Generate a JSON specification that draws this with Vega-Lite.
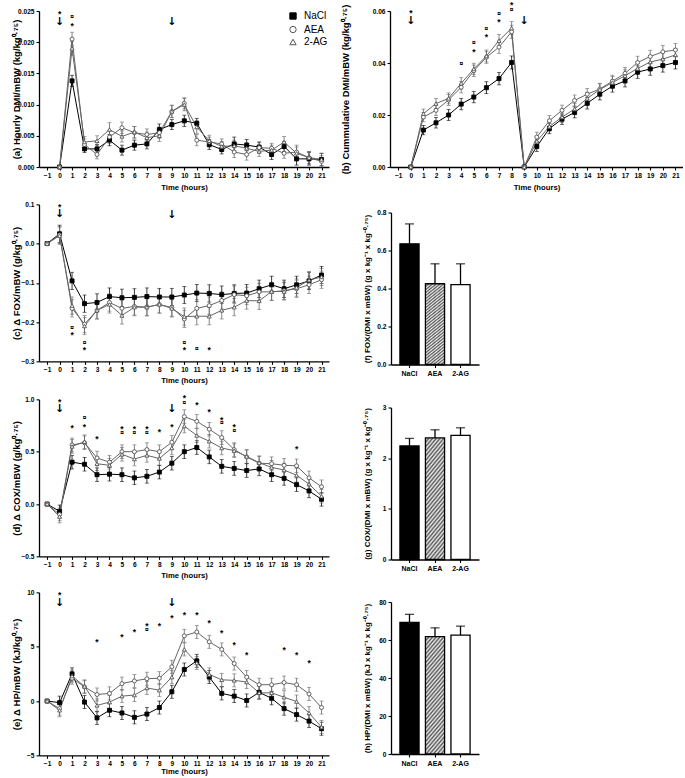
{
  "$schema": "https://vega.github.io/schema/vega-lite/v6.json",
  "padding": {"left": 11, "top": 1, "right": 0, "bottom": 0},
  "datasets": {
    "a": [
      {"t":0,"g":"NaCl","m":0,"se":0},{"t":1,"g":"NaCl","m":0.0138,"se":0.0009},{"t":2,"g":"NaCl","m":0.0029,"se":0.0006},{"t":3,"g":"NaCl","m":0.0029,"se":0.0007},{"t":4,"g":"NaCl","m":0.0043,"se":0.0009},{"t":5,"g":"NaCl","m":0.0027,"se":0.0008},{"t":6,"g":"NaCl","m":0.0035,"se":0.0008},{"t":7,"g":"NaCl","m":0.0037,"se":0.0008},{"t":8,"g":"NaCl","m":0.006,"se":0.0009},{"t":9,"g":"NaCl","m":0.0068,"se":0.0008},{"t":10,"g":"NaCl","m":0.0074,"se":0.0009},{"t":11,"g":"NaCl","m":0.007,"se":0.0008},{"t":12,"g":"NaCl","m":0.0036,"se":0.0008},{"t":13,"g":"NaCl","m":0.0028,"se":0.0007},{"t":14,"g":"NaCl","m":0.0037,"se":0.0011},{"t":15,"g":"NaCl","m":0.0035,"se":0.0009},{"t":16,"g":"NaCl","m":0.0032,"se":0.0008},{"t":17,"g":"NaCl","m":0.002,"se":0.0008},{"t":18,"g":"NaCl","m":0.0033,"se":0.0008},{"t":19,"g":"NaCl","m":0.0013,"se":0.001},{"t":20,"g":"NaCl","m":0.0013,"se":0.001},{"t":21,"g":"NaCl","m":0.0012,"se":0.001},
      {"t":0,"g":"AEA","m":0,"se":0},{"t":1,"g":"AEA","m":0.0205,"se":0.0011},{"t":2,"g":"AEA","m":0.0036,"se":0.0009},{"t":3,"g":"AEA","m":0.002,"se":0.0007},{"t":4,"g":"AEA","m":0.0048,"se":0.001},{"t":5,"g":"AEA","m":0.0063,"se":0.0009},{"t":6,"g":"AEA","m":0.0055,"se":0.001},{"t":7,"g":"AEA","m":0.0052,"se":0.0009},{"t":8,"g":"AEA","m":0.0055,"se":0.0009},{"t":9,"g":"AEA","m":0.0089,"se":0.001},{"t":10,"g":"AEA","m":0.0102,"se":0.0009},{"t":11,"g":"AEA","m":0.0043,"se":0.0009},{"t":12,"g":"AEA","m":0.004,"se":0.0008},{"t":13,"g":"AEA","m":0.0037,"se":0.0008},{"t":14,"g":"AEA","m":0.0024,"se":0.0009},{"t":15,"g":"AEA","m":0.002,"se":0.0009},{"t":16,"g":"AEA","m":0.0031,"se":0.0009},{"t":17,"g":"AEA","m":0.003,"se":0.0008},{"t":18,"g":"AEA","m":0.0022,"se":0.0008},{"t":19,"g":"AEA","m":0.0024,"se":0.0011},{"t":20,"g":"AEA","m":0.0015,"se":0.001},{"t":21,"g":"AEA","m":0.0009,"se":0.0009},
      {"t":0,"g":"2-AG","m":0,"se":0},{"t":1,"g":"2-AG","m":0.019,"se":0.0011},{"t":2,"g":"2-AG","m":0.004,"se":0.0009},{"t":3,"g":"2-AG","m":0.0042,"se":0.0008},{"t":4,"g":"2-AG","m":0.006,"se":0.0011},{"t":5,"g":"2-AG","m":0.0049,"se":0.0009},{"t":6,"g":"2-AG","m":0.0056,"se":0.0009},{"t":7,"g":"2-AG","m":0.0047,"se":0.0009},{"t":8,"g":"2-AG","m":0.005,"se":0.0009},{"t":9,"g":"2-AG","m":0.0089,"se":0.001},{"t":10,"g":"2-AG","m":0.01,"se":0.001},{"t":11,"g":"2-AG","m":0.0064,"se":0.001},{"t":12,"g":"2-AG","m":0.0042,"se":0.0009},{"t":13,"g":"2-AG","m":0.0033,"se":0.0008},{"t":14,"g":"2-AG","m":0.0034,"se":0.0009},{"t":15,"g":"2-AG","m":0.003,"se":0.0009},{"t":16,"g":"2-AG","m":0.0025,"se":0.0008},{"t":17,"g":"2-AG","m":0.0027,"se":0.0008},{"t":18,"g":"2-AG","m":0.004,"se":0.0009},{"t":19,"g":"2-AG","m":0.0022,"se":0.001},{"t":20,"g":"2-AG","m":0.0015,"se":0.001},{"t":21,"g":"2-AG","m":0.0012,"se":0.001}
    ],
    "aNote": [
      {"t":0,"m":0.0248,"s":"*"},{"t":0,"m":0.0233,"s":"↓"},{"t":1,"m":0.0241,"s":"¤"},{"t":1,"m":0.0229,"s":"*"},{"t":9,"m":0.0233,"s":"↓"}
    ],
    "b": [
      {"t":0,"g":"NaCl","m":0,"se":0},{"t":1,"g":"NaCl","m":0.0142,"se":0.0018},{"t":2,"g":"NaCl","m":0.017,"se":0.002},{"t":3,"g":"NaCl","m":0.02,"se":0.0021},{"t":4,"g":"NaCl","m":0.0242,"se":0.0022},{"t":5,"g":"NaCl","m":0.0269,"se":0.0022},{"t":6,"g":"NaCl","m":0.0305,"se":0.0023},{"t":7,"g":"NaCl","m":0.034,"se":0.0024},{"t":8,"g":"NaCl","m":0.0402,"se":0.0025},{"t":9,"g":"NaCl","m":0,"se":0},{"t":10,"g":"NaCl","m":0.0079,"se":0.0019},{"t":11,"g":"NaCl","m":0.0148,"se":0.002},{"t":12,"g":"NaCl","m":0.0184,"se":0.002},{"t":13,"g":"NaCl","m":0.021,"se":0.0021},{"t":14,"g":"NaCl","m":0.0245,"se":0.0022},{"t":15,"g":"NaCl","m":0.028,"se":0.0022},{"t":16,"g":"NaCl","m":0.0311,"se":0.0023},{"t":17,"g":"NaCl","m":0.0331,"se":0.0023},{"t":18,"g":"NaCl","m":0.0365,"se":0.0024},{"t":19,"g":"NaCl","m":0.0377,"se":0.0024},{"t":20,"g":"NaCl","m":0.039,"se":0.0025},{"t":21,"g":"NaCl","m":0.0402,"se":0.0025},
      {"t":0,"g":"AEA","m":0,"se":0},{"t":1,"g":"AEA","m":0.0192,"se":0.0018},{"t":2,"g":"AEA","m":0.0218,"se":0.002},{"t":3,"g":"AEA","m":0.0258,"se":0.0021},{"t":4,"g":"AEA","m":0.0307,"se":0.0022},{"t":5,"g":"AEA","m":0.037,"se":0.0022},{"t":6,"g":"AEA","m":0.0422,"se":0.0023},{"t":7,"g":"AEA","m":0.0461,"se":0.0024},{"t":8,"g":"AEA","m":0.052,"se":0.0025},{"t":9,"g":"AEA","m":0,"se":0},{"t":10,"g":"AEA","m":0.0115,"se":0.0019},{"t":11,"g":"AEA","m":0.0178,"se":0.002},{"t":12,"g":"AEA","m":0.0218,"se":0.002},{"t":13,"g":"AEA","m":0.0256,"se":0.0021},{"t":14,"g":"AEA","m":0.028,"se":0.0022},{"t":15,"g":"AEA","m":0.03,"se":0.0022},{"t":16,"g":"AEA","m":0.033,"se":0.0023},{"t":17,"g":"AEA","m":0.036,"se":0.0023},{"t":18,"g":"AEA","m":0.0402,"se":0.0024},{"t":19,"g":"AEA","m":0.0425,"se":0.0024},{"t":20,"g":"AEA","m":0.0443,"se":0.0025},{"t":21,"g":"AEA","m":0.045,"se":0.0025},
      {"t":0,"g":"2-AG","m":0,"se":0},{"t":1,"g":"2-AG","m":0.0205,"se":0.0018},{"t":2,"g":"2-AG","m":0.0244,"se":0.002},{"t":3,"g":"2-AG","m":0.0264,"se":0.0021},{"t":4,"g":"2-AG","m":0.0322,"se":0.0022},{"t":5,"g":"2-AG","m":0.0377,"se":0.0022},{"t":6,"g":"2-AG","m":0.0427,"se":0.0023},{"t":7,"g":"2-AG","m":0.0486,"se":0.0024},{"t":8,"g":"2-AG","m":0.0534,"se":0.0025},{"t":9,"g":"2-AG","m":0,"se":0},{"t":10,"g":"2-AG","m":0.0099,"se":0.0019},{"t":11,"g":"2-AG","m":0.0156,"se":0.002},{"t":12,"g":"2-AG","m":0.0192,"se":0.002},{"t":13,"g":"2-AG","m":0.0223,"se":0.0021},{"t":14,"g":"2-AG","m":0.0264,"se":0.0022},{"t":15,"g":"2-AG","m":0.0298,"se":0.0022},{"t":16,"g":"2-AG","m":0.0325,"se":0.0023},{"t":17,"g":"2-AG","m":0.0351,"se":0.0023},{"t":18,"g":"2-AG","m":0.0379,"se":0.0024},{"t":19,"g":"2-AG","m":0.0404,"se":0.0024},{"t":20,"g":"2-AG","m":0.0415,"se":0.0025},{"t":21,"g":"2-AG","m":0.0431,"se":0.0025}
    ],
    "bNote": [
      {"t":0,"m":0.0598,"s":"*"},{"t":0,"m":0.0561,"s":"↓"},{"t":4,"m":0.0395,"s":"¤"},{"t":5,"m":0.0476,"s":"¤"},{"t":5,"m":0.045,"s":"*"},{"t":6,"m":0.053,"s":"¤"},{"t":6,"m":0.0504,"s":"*"},{"t":7,"m":0.0589,"s":"¤"},{"t":7,"m":0.0563,"s":"*"},{"t":8,"m":0.0627,"s":"*"},{"t":8,"m":0.0604,"s":"¤"},{"t":9,"m":0.0561,"s":"↓"}
    ],
    "c": [
      {"t":-1,"g":"NaCl","m":0,"se":0},{"t":0,"g":"NaCl","m":0.025,"se":0.022},{"t":1,"g":"NaCl","m":-0.095,"se":0.022},{"t":2,"g":"NaCl","m":-0.153,"se":0.022},{"t":3,"g":"NaCl","m":-0.15,"se":0.022},{"t":4,"g":"NaCl","m":-0.135,"se":0.022},{"t":5,"g":"NaCl","m":-0.138,"se":0.022},{"t":6,"g":"NaCl","m":-0.137,"se":0.022},{"t":7,"g":"NaCl","m":-0.135,"se":0.022},{"t":8,"g":"NaCl","m":-0.136,"se":0.022},{"t":9,"g":"NaCl","m":-0.136,"se":0.022},{"t":10,"g":"NaCl","m":-0.131,"se":0.022},{"t":11,"g":"NaCl","m":-0.126,"se":0.022},{"t":12,"g":"NaCl","m":-0.127,"se":0.022},{"t":13,"g":"NaCl","m":-0.13,"se":0.022},{"t":14,"g":"NaCl","m":-0.127,"se":0.022},{"t":15,"g":"NaCl","m":-0.126,"se":0.022},{"t":16,"g":"NaCl","m":-0.115,"se":0.022},{"t":17,"g":"NaCl","m":-0.105,"se":0.022},{"t":18,"g":"NaCl","m":-0.115,"se":0.022},{"t":19,"g":"NaCl","m":-0.105,"se":0.022},{"t":20,"g":"NaCl","m":-0.095,"se":0.022},{"t":21,"g":"NaCl","m":-0.08,"se":0.022},
      {"t":-1,"g":"AEA","m":0,"se":0},{"t":0,"g":"AEA","m":0.022,"se":0.022},{"t":1,"g":"AEA","m":-0.165,"se":0.022},{"t":2,"g":"AEA","m":-0.205,"se":0.022},{"t":3,"g":"AEA","m":-0.17,"se":0.022},{"t":4,"g":"AEA","m":-0.15,"se":0.022},{"t":5,"g":"AEA","m":-0.165,"se":0.022},{"t":6,"g":"AEA","m":-0.16,"se":0.022},{"t":7,"g":"AEA","m":-0.162,"se":0.022},{"t":8,"g":"AEA","m":-0.155,"se":0.022},{"t":9,"g":"AEA","m":-0.163,"se":0.022},{"t":10,"g":"AEA","m":-0.192,"se":0.022},{"t":11,"g":"AEA","m":-0.165,"se":0.022},{"t":12,"g":"AEA","m":-0.158,"se":0.022},{"t":13,"g":"AEA","m":-0.145,"se":0.022},{"t":14,"g":"AEA","m":-0.13,"se":0.022},{"t":15,"g":"AEA","m":-0.133,"se":0.022},{"t":16,"g":"AEA","m":-0.123,"se":0.022},{"t":17,"g":"AEA","m":-0.123,"se":0.022},{"t":18,"g":"AEA","m":-0.12,"se":0.022},{"t":19,"g":"AEA","m":-0.115,"se":0.022},{"t":20,"g":"AEA","m":-0.105,"se":0.022},{"t":21,"g":"AEA","m":-0.092,"se":0.022},
      {"t":-1,"g":"2-AG","m":0,"se":0},{"t":0,"g":"2-AG","m":0.02,"se":0.022},{"t":1,"g":"2-AG","m":-0.158,"se":0.022},{"t":2,"g":"2-AG","m":-0.21,"se":0.022},{"t":3,"g":"2-AG","m":-0.17,"se":0.022},{"t":4,"g":"2-AG","m":-0.155,"se":0.022},{"t":5,"g":"2-AG","m":-0.183,"se":0.022},{"t":6,"g":"2-AG","m":-0.162,"se":0.022},{"t":7,"g":"2-AG","m":-0.162,"se":0.022},{"t":8,"g":"2-AG","m":-0.155,"se":0.022},{"t":9,"g":"2-AG","m":-0.165,"se":0.022},{"t":10,"g":"2-AG","m":-0.186,"se":0.022},{"t":11,"g":"2-AG","m":-0.185,"se":0.022},{"t":12,"g":"2-AG","m":-0.185,"se":0.022},{"t":13,"g":"2-AG","m":-0.17,"se":0.022},{"t":14,"g":"2-AG","m":-0.162,"se":0.022},{"t":15,"g":"2-AG","m":-0.145,"se":0.022},{"t":16,"g":"2-AG","m":-0.146,"se":0.022},{"t":17,"g":"2-AG","m":-0.122,"se":0.022},{"t":18,"g":"2-AG","m":-0.122,"se":0.022},{"t":19,"g":"2-AG","m":-0.112,"se":0.022},{"t":20,"g":"2-AG","m":-0.093,"se":0.022},{"t":21,"g":"2-AG","m":-0.085,"se":0.022}
    ],
    "cNote": [
      {"t":0,"m":0.098,"s":"*"},{"t":0,"m":0.076,"s":"↓"},{"t":9,"m":0.072,"s":"↓"},{"t":1,"m":-0.215,"s":"¤"},{"t":1,"m":-0.23,"s":"*"},{"t":2,"m":-0.253,"s":"¤"},{"t":2,"m":-0.268,"s":"*"},{"t":10,"m":-0.253,"s":"¤"},{"t":10,"m":-0.268,"s":"*"},{"t":11,"m":-0.268,"s":"¤"},{"t":12,"m":-0.268,"s":"*"}
    ],
    "d": [
      {"t":-1,"g":"NaCl","m":0,"se":0},{"t":0,"g":"NaCl","m":-0.07,"se":0.06},{"t":1,"g":"NaCl","m":0.4,"se":0.065},{"t":2,"g":"NaCl","m":0.38,"se":0.065},{"t":3,"g":"NaCl","m":0.28,"se":0.065},{"t":4,"g":"NaCl","m":0.285,"se":0.065},{"t":5,"g":"NaCl","m":0.28,"se":0.065},{"t":6,"g":"NaCl","m":0.25,"se":0.065},{"t":7,"g":"NaCl","m":0.265,"se":0.065},{"t":8,"g":"NaCl","m":0.305,"se":0.065},{"t":9,"g":"NaCl","m":0.39,"se":0.065},{"t":10,"g":"NaCl","m":0.5,"se":0.065},{"t":11,"g":"NaCl","m":0.54,"se":0.065},{"t":12,"g":"NaCl","m":0.45,"se":0.065},{"t":13,"g":"NaCl","m":0.36,"se":0.065},{"t":14,"g":"NaCl","m":0.34,"se":0.065},{"t":15,"g":"NaCl","m":0.32,"se":0.065},{"t":16,"g":"NaCl","m":0.335,"se":0.065},{"t":17,"g":"NaCl","m":0.28,"se":0.065},{"t":18,"g":"NaCl","m":0.245,"se":0.065},{"t":19,"g":"NaCl","m":0.185,"se":0.065},{"t":20,"g":"NaCl","m":0.125,"se":0.065},{"t":21,"g":"NaCl","m":0.045,"se":0.065},
      {"t":-1,"g":"AEA","m":0,"se":0},{"t":0,"g":"AEA","m":-0.1,"se":0.06},{"t":1,"g":"AEA","m":0.565,"se":0.065},{"t":2,"g":"AEA","m":0.585,"se":0.065},{"t":3,"g":"AEA","m":0.44,"se":0.065},{"t":4,"g":"AEA","m":0.4,"se":0.065},{"t":5,"g":"AEA","m":0.5,"se":0.065},{"t":6,"g":"AEA","m":0.5,"se":0.065},{"t":7,"g":"AEA","m":0.52,"se":0.065},{"t":8,"g":"AEA","m":0.5,"se":0.065},{"t":9,"g":"AEA","m":0.59,"se":0.065},{"t":10,"g":"AEA","m":0.835,"se":0.065},{"t":11,"g":"AEA","m":0.79,"se":0.065},{"t":12,"g":"AEA","m":0.715,"se":0.065},{"t":13,"g":"AEA","m":0.635,"se":0.065},{"t":14,"g":"AEA","m":0.52,"se":0.065},{"t":15,"g":"AEA","m":0.45,"se":0.065},{"t":16,"g":"AEA","m":0.39,"se":0.065},{"t":17,"g":"AEA","m":0.385,"se":0.065},{"t":18,"g":"AEA","m":0.37,"se":0.065},{"t":19,"g":"AEA","m":0.365,"se":0.065},{"t":20,"g":"AEA","m":0.25,"se":0.065},{"t":21,"g":"AEA","m":0.165,"se":0.065},
      {"t":-1,"g":"2-AG","m":0,"se":0},{"t":0,"g":"2-AG","m":-0.12,"se":0.06},{"t":1,"g":"2-AG","m":0.55,"se":0.065},{"t":2,"g":"2-AG","m":0.595,"se":0.065},{"t":3,"g":"2-AG","m":0.385,"se":0.065},{"t":4,"g":"2-AG","m":0.37,"se":0.065},{"t":5,"g":"2-AG","m":0.475,"se":0.065},{"t":6,"g":"2-AG","m":0.43,"se":0.065},{"t":7,"g":"2-AG","m":0.465,"se":0.065},{"t":8,"g":"2-AG","m":0.435,"se":0.065},{"t":9,"g":"2-AG","m":0.535,"se":0.065},{"t":10,"g":"2-AG","m":0.745,"se":0.065},{"t":11,"g":"2-AG","m":0.655,"se":0.065},{"t":12,"g":"2-AG","m":0.6,"se":0.065},{"t":13,"g":"2-AG","m":0.535,"se":0.065},{"t":14,"g":"2-AG","m":0.51,"se":0.065},{"t":15,"g":"2-AG","m":0.455,"se":0.065},{"t":16,"g":"2-AG","m":0.395,"se":0.065},{"t":17,"g":"2-AG","m":0.35,"se":0.065},{"t":18,"g":"2-AG","m":0.325,"se":0.065},{"t":19,"g":"2-AG","m":0.275,"se":0.065},{"t":20,"g":"2-AG","m":0.19,"se":0.065},{"t":21,"g":"2-AG","m":0.075,"se":0.065}
    ],
    "dNote": [
      {"t":0,"m":0.993,"s":"*"},{"t":0,"m":0.905,"s":"↓"},{"t":1,"m":0.738,"s":"*"},{"t":2,"m":0.818,"s":"¤"},{"t":2,"m":0.751,"s":"*"},{"t":3,"m":0.636,"s":"*"},{"t":5,"m":0.729,"s":"*"},{"t":5,"m":0.674,"s":"¤"},{"t":6,"m":0.729,"s":"*"},{"t":6,"m":0.674,"s":"¤"},{"t":7,"m":0.729,"s":"*"},{"t":7,"m":0.674,"s":"¤"},{"t":8,"m":0.706,"s":"*"},{"t":9,"m":0.91,"s":"↓"},{"t":9,"m":0.751,"s":"*"},{"t":10,"m":1.025,"s":"*"},{"t":10,"m":0.968,"s":"¤"},{"t":11,"m":0.962,"s":"*"},{"t":12,"m":0.898,"s":"*"},{"t":13,"m":0.818,"s":"*"},{"t":13,"m":0.77,"s":"¤"},{"t":14,"m":0.751,"s":"*"},{"t":14,"m":0.697,"s":"¤"},{"t":19,"m":0.543,"s":"*"}
    ],
    "e": [
      {"t":-1,"g":"NaCl","m":0,"se":0},{"t":0,"g":"NaCl","m":-0.15,"se":0.6},{"t":1,"g":"NaCl","m":2.5,"se":0.55},{"t":2,"g":"NaCl","m":-0.1,"se":0.6},{"t":3,"g":"NaCl","m":-1.55,"se":0.6},{"t":4,"g":"NaCl","m":-0.85,"se":0.6},{"t":5,"g":"NaCl","m":-1.1,"se":0.6},{"t":6,"g":"NaCl","m":-1.5,"se":0.6},{"t":7,"g":"NaCl","m":-1.2,"se":0.6},{"t":8,"g":"NaCl","m":-0.6,"se":0.6},{"t":9,"g":"NaCl","m":0.85,"se":0.6},{"t":10,"g":"NaCl","m":2.9,"se":0.6},{"t":11,"g":"NaCl","m":3.7,"se":0.6},{"t":12,"g":"NaCl","m":2.2,"se":0.6},{"t":13,"g":"NaCl","m":0.7,"se":0.6},{"t":14,"g":"NaCl","m":0.45,"se":0.6},{"t":15,"g":"NaCl","m":0.05,"se":0.6},{"t":16,"g":"NaCl","m":0.8,"se":0.6},{"t":17,"g":"NaCl","m":0.25,"se":0.6},{"t":18,"g":"NaCl","m":-0.7,"se":0.6},{"t":19,"g":"NaCl","m":-1.25,"se":0.6},{"t":20,"g":"NaCl","m":-1.85,"se":0.6},{"t":21,"g":"NaCl","m":-2.55,"se":0.6},
      {"t":-1,"g":"AEA","m":0,"se":0},{"t":0,"g":"AEA","m":-0.7,"se":0.6},{"t":1,"g":"AEA","m":2.1,"se":0.55},{"t":2,"g":"AEA","m":1.3,"se":0.6},{"t":3,"g":"AEA","m":0.6,"se":0.6},{"t":4,"g":"AEA","m":0.7,"se":0.6},{"t":5,"g":"AEA","m":1.6,"se":0.6},{"t":6,"g":"AEA","m":1.85,"se":0.6},{"t":7,"g":"AEA","m":2.05,"se":0.6},{"t":8,"g":"AEA","m":2.1,"se":0.6},{"t":9,"g":"AEA","m":3.15,"se":0.6},{"t":10,"g":"AEA","m":6.0,"se":0.6},{"t":11,"g":"AEA","m":6.35,"se":0.6},{"t":12,"g":"AEA","m":5.45,"se":0.6},{"t":13,"g":"AEA","m":4.75,"se":0.6},{"t":14,"g":"AEA","m":3.45,"se":0.6},{"t":15,"g":"AEA","m":2.2,"se":0.6},{"t":16,"g":"AEA","m":1.5,"se":0.6},{"t":17,"g":"AEA","m":1.5,"se":0.6},{"t":18,"g":"AEA","m":1.7,"se":0.6},{"t":19,"g":"AEA","m":1.5,"se":0.6},{"t":20,"g":"AEA","m":0.65,"se":0.6},{"t":21,"g":"AEA","m":-0.6,"se":0.6},
      {"t":-1,"g":"2-AG","m":0,"se":0},{"t":0,"g":"2-AG","m":-0.85,"se":0.6},{"t":1,"g":"2-AG","m":2.3,"se":0.55},{"t":2,"g":"2-AG","m":1.35,"se":0.6},{"t":3,"g":"2-AG","m":-0.4,"se":0.6},{"t":4,"g":"2-AG","m":-0.1,"se":0.6},{"t":5,"g":"2-AG","m":0.45,"se":0.6},{"t":6,"g":"2-AG","m":0.55,"se":0.6},{"t":7,"g":"2-AG","m":1.2,"se":0.6},{"t":8,"g":"2-AG","m":1.0,"se":0.6},{"t":9,"g":"2-AG","m":2.2,"se":0.6},{"t":10,"g":"2-AG","m":4.75,"se":0.6},{"t":11,"g":"2-AG","m":3.5,"se":0.6},{"t":12,"g":"2-AG","m":2.45,"se":0.6},{"t":13,"g":"2-AG","m":1.95,"se":0.6},{"t":14,"g":"2-AG","m":1.9,"se":0.6},{"t":15,"g":"2-AG","m":1.75,"se":0.6},{"t":16,"g":"2-AG","m":0.75,"se":0.6},{"t":17,"g":"2-AG","m":0.75,"se":0.6},{"t":18,"g":"2-AG","m":0.35,"se":0.6},{"t":19,"g":"2-AG","m":-0.05,"se":0.6},{"t":20,"g":"2-AG","m":-1.1,"se":0.6},{"t":21,"g":"2-AG","m":-2.4,"se":0.6}
    ],
    "eNote": [
      {"t":0,"m":9.87,"s":"*"},{"t":0,"m":9.03,"s":"↓"},{"t":3,"m":5.56,"s":"*"},{"t":5,"m":6.07,"s":"*"},{"t":6,"m":6.53,"s":"*"},{"t":7,"m":7.07,"s":"*"},{"t":7,"m":6.56,"s":"¤"},{"t":8,"m":7.07,"s":"*"},{"t":9,"m":7.76,"s":"*"},{"t":9,"m":9.03,"s":"↓"},{"t":10,"m":8.06,"s":"*"},{"t":11,"m":8.06,"s":"*"},{"t":12,"m":7.28,"s":"*"},{"t":13,"m":6.41,"s":"*"},{"t":14,"m":5.26,"s":"*"},{"t":15,"m":4.35,"s":"*"},{"t":18,"m":4.8,"s":"*"},{"t":19,"m":4.35,"s":"*"},{"t":20,"m":3.6,"s":"*"}
    ],
    "f": [
      {"g":"NaCl","m":0.635,"hi":0.74},{"g":"AEA","m":0.425,"hi":0.53},{"g":"2-AG","m":0.42,"hi":0.53}
    ],
    "gBar": [
      {"g":"NaCl","m":2.24,"hi":2.39},{"g":"AEA","m":2.4,"hi":2.56},{"g":"2-AG","m":2.45,"hi":2.6}
    ],
    "h": [
      {"g":"NaCl","m":69.2,"hi":73.5},{"g":"AEA","m":61.8,"hi":66.4},{"g":"2-AG","m":62.6,"hi":67.3}
    ]
  },
  "vconcat": [
    {
      "hconcat": [
        {
          "width": 290, "height": 156,
          "data": {"name": "a"},
          "encoding": {
            "x": {"field": "t", "type": "quantitative", "scale": {"domain": [-1.65, 21.6], "nice": false, "zero": false}, "axis": {"title": "Time (hours)", "values": [-1,0,1,2,3,4,5,6,7,8,9,10,11,12,13,14,15,16,17,18,19,20,21], "labelOverlap": false, "labelFlush": false, "titlePadding": 5}},
            "y": {"field": "m", "type": "quantitative", "title": "(a) Hourly DMI/mBW (kg/kg⁰·⁷⁵)", "scale": {"domain": [0, 0.025], "nice": false, "zero": false}, "axis": {"values": [0, 0.005, 0.01, 0.015, 0.02, 0.025], "format": ".3f", "titleX": -23}}
          },
          "layer": [
            {"mark": {"type": "errorbar", "ticks": {"size": 4}, "thickness": 0.8}, "encoding": {"yError": {"field": "se"}, "color": {"field": "g", "type": "nominal", "sort": ["NaCl", "AEA", "2-AG"], "scale": {"range": ["#000", "#666", "#666"]}, "legend": null}}},
            {"mark": {"type": "line", "strokeWidth": 1}, "encoding": {"color": {"field": "g", "type": "nominal", "sort": ["NaCl", "AEA", "2-AG"], "scale": {"range": ["#000", "#666", "#666"]}, "legend": null}}},
            {"mark": {"type": "point", "size": 16, "strokeWidth": 0.9, "opacity": 1},
             "encoding": {
               "shape": {"field": "g", "type": "nominal", "title": null, "scale": {"domain": ["NaCl", "AEA", "2-AG"], "range": ["square", "circle", "triangle-up"]},
                 "legend": {"title": null, "orient": "none", "legendX": 249, "legendY": 0, "labelFont": "Liberation Sans", "labelFontSize": 10, "labelFontWeight": "normal", "labelColor": "#000", "labelOffset": 6, "rowPadding": 1.5, "symbolSize": 40, "symbolStrokeWidth": 1}},
               "fill": {"field": "g", "type": "nominal", "title": null, "scale": {"domain": ["NaCl", "AEA", "2-AG"], "range": ["#000", "#fff", "#fff"]}},
               "stroke": {"field": "g", "type": "nominal", "title": null, "scale": {"domain": ["NaCl", "AEA", "2-AG"], "range": ["#000", "#555", "#555"]}}
             }},
            {"data": {"name": "aNote"}, "transform": [{"filter": "datum.s == '↓'"}], "mark": {"type": "text", "font": "DejaVu Sans", "fontSize": 11, "fontWeight": "bold", "baseline": "middle", "color": "#000"}, "encoding": {"text": {"field": "s"}}},
            {"data": {"name": "aNote"}, "transform": [{"filter": "datum.s == '*'"}], "mark": {"type": "text", "font": "Liberation Sans", "fontSize": 8.5, "fontWeight": "bold", "baseline": "middle", "dy": 1.5, "color": "#000"}, "encoding": {"text": {"field": "s"}}},
            {"data": {"name": "aNote"}, "transform": [{"filter": "datum.s == '¤'"}], "mark": {"type": "text", "font": "Liberation Sans", "fontSize": 6.5, "fontWeight": "bold", "baseline": "middle", "color": "#000"}, "encoding": {"text": {"field": "s"}}}
          ]
        },
        {
          "width": 293, "height": 156,
          "data": {"name": "b"},
          "encoding": {
            "x": {"field": "t", "type": "quantitative", "scale": {"domain": [-1.65, 21.6], "nice": false, "zero": false}, "axis": {"title": "Time (hours)", "values": [-1,0,1,2,3,4,5,6,7,8,9,10,11,12,13,14,15,16,17,18,19,20,21], "labelOverlap": false, "labelFlush": false, "titlePadding": 5}},
            "y": {"field": "m", "type": "quantitative", "title": "(b) Cummulative DMI/mBW (kg/kg⁰·⁷⁵)", "scale": {"domain": [0, 0.06], "nice": false, "zero": false}, "axis": {"values": [0, 0.02, 0.04, 0.06], "format": ".2f", "titleX": -45}}
          },
          "layer": [
            {"mark": {"type": "errorbar", "ticks": {"size": 4}, "thickness": 0.8}, "encoding": {"yError": {"field": "se"}, "color": {"field": "g", "type": "nominal", "scale": {"domain": ["NaCl", "AEA", "2-AG"], "range": ["#000", "#666", "#666"]}, "legend": null}}},
            {"mark": {"type": "line", "strokeWidth": 1}, "encoding": {"color": {"field": "g", "type": "nominal", "scale": {"domain": ["NaCl", "AEA", "2-AG"], "range": ["#000", "#666", "#666"]}, "legend": null}}},
            {"mark": {"type": "point", "size": 16, "strokeWidth": 0.9, "opacity": 1},
             "encoding": {
               "shape": {"field": "g", "type": "nominal", "scale": {"domain": ["NaCl", "AEA", "2-AG"], "range": ["square", "circle", "triangle-up"]}, "legend": null},
               "fill": {"field": "g", "type": "nominal", "scale": {"domain": ["NaCl", "AEA", "2-AG"], "range": ["#000", "#fff", "#fff"]}, "legend": null},
               "stroke": {"field": "g", "type": "nominal", "scale": {"domain": ["NaCl", "AEA", "2-AG"], "range": ["#000", "#555", "#555"]}, "legend": null}
             }},
            {"data": {"name": "bNote"}, "transform": [{"filter": "datum.s == '↓'"}], "mark": {"type": "text", "font": "DejaVu Sans", "fontSize": 11, "fontWeight": "bold", "baseline": "middle", "color": "#000"}, "encoding": {"text": {"field": "s"}}},
            {"data": {"name": "bNote"}, "transform": [{"filter": "datum.s == '*'"}], "mark": {"type": "text", "font": "Liberation Sans", "fontSize": 8.5, "fontWeight": "bold", "baseline": "middle", "dy": 1.5, "color": "#000"}, "encoding": {"text": {"field": "s"}}},
            {"data": {"name": "bNote"}, "transform": [{"filter": "datum.s == '¤'"}], "mark": {"type": "text", "font": "Liberation Sans", "fontSize": 6.5, "fontWeight": "bold", "baseline": "middle", "color": "#000"}, "encoding": {"text": {"field": "s"}}}
          ]
        }
      ],
      "spacing": 10,
      "resolve": {"scale": {"color": "independent", "shape": "independent", "fill": "independent", "stroke": "independent"}}
    },
    {
      "hconcat": [
        {
          "width": 290, "height": 157,
          "data": {"name": "c"},
          "encoding": {
            "x": {"field": "t", "type": "quantitative", "scale": {"domain": [-1.65, 21.6], "nice": false, "zero": false}, "axis": {"title": "Time (hours)", "values": [-1,0,1,2,3,4,5,6,7,8,9,10,11,12,13,14,15,16,17,18,19,20,21], "labelOverlap": false, "labelFlush": false, "titlePadding": 4}},
            "y": {"field": "m", "type": "quantitative", "title": "(c) Δ FOX/mBW (g/kg⁰·⁷⁵)", "scale": {"domain": [-0.3, 0.1], "nice": false, "zero": false}, "axis": {"values": [-0.3, -0.2, -0.1, 0, 0.1], "format": ".1f", "titleX": -23}}
          },
          "layer": [
            {"data": {"values": [{}]}, "mark": {"type": "rule", "strokeDash": [1.5, 2], "color": "#333", "strokeWidth": 0.9}, "encoding": {"x": {"datum": -1.65}, "x2": {"datum": 21.6}, "y": {"datum": 0}}},
            {"mark": {"type": "errorbar", "ticks": {"size": 4}, "thickness": 0.8}, "encoding": {"yError": {"field": "se"}, "color": {"field": "g", "type": "nominal", "scale": {"domain": ["NaCl", "AEA", "2-AG"], "range": ["#000", "#666", "#666"]}, "legend": null}}},
            {"mark": {"type": "line", "strokeWidth": 1}, "encoding": {"color": {"field": "g", "type": "nominal", "scale": {"domain": ["NaCl", "AEA", "2-AG"], "range": ["#000", "#666", "#666"]}, "legend": null}}},
            {"mark": {"type": "point", "size": 16, "strokeWidth": 0.9, "opacity": 1},
             "encoding": {
               "shape": {"field": "g", "type": "nominal", "scale": {"domain": ["NaCl", "AEA", "2-AG"], "range": ["square", "circle", "triangle-up"]}, "legend": null},
               "fill": {"field": "g", "type": "nominal", "scale": {"domain": ["NaCl", "AEA", "2-AG"], "range": ["#000", "#fff", "#fff"]}, "legend": null},
               "stroke": {"field": "g", "type": "nominal", "scale": {"domain": ["NaCl", "AEA", "2-AG"], "range": ["#000", "#555", "#555"]}, "legend": null}
             }},
            {"data": {"name": "cNote"}, "transform": [{"filter": "datum.s == '↓'"}], "mark": {"type": "text", "font": "DejaVu Sans", "fontSize": 11, "fontWeight": "bold", "baseline": "middle", "color": "#000"}, "encoding": {"text": {"field": "s"}}},
            {"data": {"name": "cNote"}, "transform": [{"filter": "datum.s == '*'"}], "mark": {"type": "text", "font": "Liberation Sans", "fontSize": 8.5, "fontWeight": "bold", "baseline": "middle", "dy": 1.5, "color": "#000"}, "encoding": {"text": {"field": "s"}}},
            {"data": {"name": "cNote"}, "transform": [{"filter": "datum.s == '¤'"}], "mark": {"type": "text", "font": "Liberation Sans", "fontSize": 6.5, "fontWeight": "bold", "baseline": "middle", "color": "#000"}, "encoding": {"text": {"field": "s"}}}
          ]
        },
        {
          "width": 88, "height": 152,
          "data": {"name": "f"},
          "encoding": {
            "x": {"field": "g", "type": "nominal", "sort": ["NaCl", "AEA", "2-AG"], "scale": {"paddingInner": 0.25, "paddingOuter": 0.35}, "axis": {"title": null, "labelAngle": 0, "labelFontSize": 7}},
            "y": {"field": "m", "type": "quantitative", "title": "(f) FOX/(DMI x mBW) (g x kg⁻¹ x kg⁻⁰·⁷⁵)", "scale": {"domain": [0, 0.8], "nice": false}, "axis": {"values": [0, 0.2, 0.4, 0.6, 0.8], "format": ".1f", "titleX": -24, "titleFontSize": 8}}
          },
          "layer": [
            {"transform": [{"filter": "datum.g != 'AEA'"}], "mark": {"type": "bar", "stroke": "#000", "strokeWidth": 1.3}, "encoding": {"fill": {"field": "g", "type": "nominal", "scale": {"domain": ["NaCl", "2-AG"], "range": ["#000", "#fff"]}, "legend": null}}},
            {"transform": [{"filter": "datum.g == 'AEA'"}], "mark": {"type": "bar", "stroke": "#000", "strokeWidth": 1.3, "fill": {"gradient": "linear", "x1": 0, "y1": 0, "x2": 0.22, "y2": 1.15, "stops": [{"offset": 0, "color": "#555"}, {"offset": 0.015625, "color": "#eee"}, {"offset": 0.03125, "color": "#555"}, {"offset": 0.046875, "color": "#eee"}, {"offset": 0.0625, "color": "#555"}, {"offset": 0.078125, "color": "#eee"}, {"offset": 0.09375, "color": "#555"}, {"offset": 0.109375, "color": "#eee"}, {"offset": 0.125, "color": "#555"}, {"offset": 0.140625, "color": "#eee"}, {"offset": 0.15625, "color": "#555"}, {"offset": 0.171875, "color": "#eee"}, {"offset": 0.1875, "color": "#555"}, {"offset": 0.203125, "color": "#eee"}, {"offset": 0.21875, "color": "#555"}, {"offset": 0.234375, "color": "#eee"}, {"offset": 0.25, "color": "#555"}, {"offset": 0.265625, "color": "#eee"}, {"offset": 0.28125, "color": "#555"}, {"offset": 0.296875, "color": "#eee"}, {"offset": 0.3125, "color": "#555"}, {"offset": 0.328125, "color": "#eee"}, {"offset": 0.34375, "color": "#555"}, {"offset": 0.359375, "color": "#eee"}, {"offset": 0.375, "color": "#555"}, {"offset": 0.390625, "color": "#eee"}, {"offset": 0.40625, "color": "#555"}, {"offset": 0.421875, "color": "#eee"}, {"offset": 0.4375, "color": "#555"}, {"offset": 0.453125, "color": "#eee"}, {"offset": 0.46875, "color": "#555"}, {"offset": 0.484375, "color": "#eee"}, {"offset": 0.5, "color": "#555"}, {"offset": 0.515625, "color": "#eee"}, {"offset": 0.53125, "color": "#555"}, {"offset": 0.546875, "color": "#eee"}, {"offset": 0.5625, "color": "#555"}, {"offset": 0.578125, "color": "#eee"}, {"offset": 0.59375, "color": "#555"}, {"offset": 0.609375, "color": "#eee"}, {"offset": 0.625, "color": "#555"}, {"offset": 0.640625, "color": "#eee"}, {"offset": 0.65625, "color": "#555"}, {"offset": 0.671875, "color": "#eee"}, {"offset": 0.6875, "color": "#555"}, {"offset": 0.703125, "color": "#eee"}, {"offset": 0.71875, "color": "#555"}, {"offset": 0.734375, "color": "#eee"}, {"offset": 0.75, "color": "#555"}, {"offset": 0.765625, "color": "#eee"}, {"offset": 0.78125, "color": "#555"}, {"offset": 0.796875, "color": "#eee"}, {"offset": 0.8125, "color": "#555"}, {"offset": 0.828125, "color": "#eee"}, {"offset": 0.84375, "color": "#555"}, {"offset": 0.859375, "color": "#eee"}, {"offset": 0.875, "color": "#555"}, {"offset": 0.890625, "color": "#eee"}, {"offset": 0.90625, "color": "#555"}, {"offset": 0.921875, "color": "#eee"}, {"offset": 0.9375, "color": "#555"}, {"offset": 0.953125, "color": "#eee"}, {"offset": 0.96875, "color": "#555"}, {"offset": 0.984375, "color": "#eee"}, {"offset": 1, "color": "#555"}]}}},
            {"mark": {"type": "rule", "color": "#000", "strokeWidth": 1.3}, "encoding": {"y2": {"field": "hi"}}},
            {"mark": {"type": "tick", "color": "#000", "thickness": 1.3, "size": 9}, "encoding": {"y": {"field": "hi", "type": "quantitative", "title": "(f) FOX/(DMI x mBW) (g x kg⁻¹ x kg⁻⁰·⁷⁵)"}}}
          ]
        }
      ],
      "spacing": 34,
      "center": true,
      "resolve": {"scale": {"color": "independent", "shape": "independent", "fill": "independent", "stroke": "independent"}}
    },
    {
      "hconcat": [
        {
          "width": 290, "height": 157,
          "data": {"name": "d"},
          "encoding": {
            "x": {"field": "t", "type": "quantitative", "scale": {"domain": [-1.65, 21.6], "nice": false, "zero": false}, "axis": {"title": "Time (hours)", "values": [-1,0,1,2,3,4,5,6,7,8,9,10,11,12,13,14,15,16,17,18,19,20,21], "labelOverlap": false, "labelFlush": false, "titlePadding": 4}},
            "y": {"field": "m", "type": "quantitative", "title": "(d) Δ COX/mBW (g/kg⁰·⁷⁵)", "scale": {"domain": [-0.5, 1.0], "nice": false, "zero": false}, "axis": {"values": [-0.5, 0, 0.5, 1.0], "format": ".1f", "titleX": -23}}
          },
          "layer": [
            {"data": {"values": [{}]}, "mark": {"type": "rule", "strokeDash": [1.5, 2], "color": "#333", "strokeWidth": 0.9}, "encoding": {"x": {"datum": -1.65}, "x2": {"datum": 21.6}, "y": {"datum": 0}}},
            {"mark": {"type": "errorbar", "ticks": {"size": 4}, "thickness": 0.8}, "encoding": {"yError": {"field": "se"}, "color": {"field": "g", "type": "nominal", "scale": {"domain": ["NaCl", "AEA", "2-AG"], "range": ["#000", "#666", "#666"]}, "legend": null}}},
            {"mark": {"type": "line", "strokeWidth": 1}, "encoding": {"color": {"field": "g", "type": "nominal", "scale": {"domain": ["NaCl", "AEA", "2-AG"], "range": ["#000", "#666", "#666"]}, "legend": null}}},
            {"mark": {"type": "point", "size": 16, "strokeWidth": 0.9, "opacity": 1},
             "encoding": {
               "shape": {"field": "g", "type": "nominal", "scale": {"domain": ["NaCl", "AEA", "2-AG"], "range": ["square", "circle", "triangle-up"]}, "legend": null},
               "fill": {"field": "g", "type": "nominal", "scale": {"domain": ["NaCl", "AEA", "2-AG"], "range": ["#000", "#fff", "#fff"]}, "legend": null},
               "stroke": {"field": "g", "type": "nominal", "scale": {"domain": ["NaCl", "AEA", "2-AG"], "range": ["#000", "#555", "#555"]}, "legend": null}
             }},
            {"data": {"name": "dNote"}, "transform": [{"filter": "datum.s == '↓'"}], "mark": {"type": "text", "font": "DejaVu Sans", "fontSize": 11, "fontWeight": "bold", "baseline": "middle", "color": "#000"}, "encoding": {"text": {"field": "s"}}},
            {"data": {"name": "dNote"}, "transform": [{"filter": "datum.s == '*'"}], "mark": {"type": "text", "font": "Liberation Sans", "fontSize": 8.5, "fontWeight": "bold", "baseline": "middle", "dy": 1.5, "color": "#000"}, "encoding": {"text": {"field": "s"}}},
            {"data": {"name": "dNote"}, "transform": [{"filter": "datum.s == '¤'"}], "mark": {"type": "text", "font": "Liberation Sans", "fontSize": 6.5, "fontWeight": "bold", "baseline": "middle", "color": "#000"}, "encoding": {"text": {"field": "s"}}}
          ]
        },
        {
          "width": 88, "height": 152,
          "data": {"name": "gBar"},
          "encoding": {
            "x": {"field": "g", "type": "nominal", "sort": ["NaCl", "AEA", "2-AG"], "scale": {"paddingInner": 0.25, "paddingOuter": 0.35}, "axis": {"title": null, "labelAngle": 0, "labelFontSize": 7}},
            "y": {"field": "m", "type": "quantitative", "title": "(g) COX/(DMI x mBW) (g x kg⁻¹ x kg⁻⁰·⁷⁵)", "scale": {"domain": [0, 3], "nice": false}, "axis": {"values": [0, 1, 2, 3], "titleX": -24, "titleFontSize": 8}}
          },
          "layer": [
            {"transform": [{"filter": "datum.g != 'AEA'"}], "mark": {"type": "bar", "stroke": "#000", "strokeWidth": 1.3}, "encoding": {"fill": {"field": "g", "type": "nominal", "scale": {"domain": ["NaCl", "2-AG"], "range": ["#000", "#fff"]}, "legend": null}}},
            {"transform": [{"filter": "datum.g == 'AEA'"}], "mark": {"type": "bar", "stroke": "#000", "strokeWidth": 1.3, "fill": {"gradient": "linear", "x1": 0, "y1": 0, "x2": 0.22, "y2": 1.15, "stops": [{"offset": 0, "color": "#555"}, {"offset": 0.015625, "color": "#eee"}, {"offset": 0.03125, "color": "#555"}, {"offset": 0.046875, "color": "#eee"}, {"offset": 0.0625, "color": "#555"}, {"offset": 0.078125, "color": "#eee"}, {"offset": 0.09375, "color": "#555"}, {"offset": 0.109375, "color": "#eee"}, {"offset": 0.125, "color": "#555"}, {"offset": 0.140625, "color": "#eee"}, {"offset": 0.15625, "color": "#555"}, {"offset": 0.171875, "color": "#eee"}, {"offset": 0.1875, "color": "#555"}, {"offset": 0.203125, "color": "#eee"}, {"offset": 0.21875, "color": "#555"}, {"offset": 0.234375, "color": "#eee"}, {"offset": 0.25, "color": "#555"}, {"offset": 0.265625, "color": "#eee"}, {"offset": 0.28125, "color": "#555"}, {"offset": 0.296875, "color": "#eee"}, {"offset": 0.3125, "color": "#555"}, {"offset": 0.328125, "color": "#eee"}, {"offset": 0.34375, "color": "#555"}, {"offset": 0.359375, "color": "#eee"}, {"offset": 0.375, "color": "#555"}, {"offset": 0.390625, "color": "#eee"}, {"offset": 0.40625, "color": "#555"}, {"offset": 0.421875, "color": "#eee"}, {"offset": 0.4375, "color": "#555"}, {"offset": 0.453125, "color": "#eee"}, {"offset": 0.46875, "color": "#555"}, {"offset": 0.484375, "color": "#eee"}, {"offset": 0.5, "color": "#555"}, {"offset": 0.515625, "color": "#eee"}, {"offset": 0.53125, "color": "#555"}, {"offset": 0.546875, "color": "#eee"}, {"offset": 0.5625, "color": "#555"}, {"offset": 0.578125, "color": "#eee"}, {"offset": 0.59375, "color": "#555"}, {"offset": 0.609375, "color": "#eee"}, {"offset": 0.625, "color": "#555"}, {"offset": 0.640625, "color": "#eee"}, {"offset": 0.65625, "color": "#555"}, {"offset": 0.671875, "color": "#eee"}, {"offset": 0.6875, "color": "#555"}, {"offset": 0.703125, "color": "#eee"}, {"offset": 0.71875, "color": "#555"}, {"offset": 0.734375, "color": "#eee"}, {"offset": 0.75, "color": "#555"}, {"offset": 0.765625, "color": "#eee"}, {"offset": 0.78125, "color": "#555"}, {"offset": 0.796875, "color": "#eee"}, {"offset": 0.8125, "color": "#555"}, {"offset": 0.828125, "color": "#eee"}, {"offset": 0.84375, "color": "#555"}, {"offset": 0.859375, "color": "#eee"}, {"offset": 0.875, "color": "#555"}, {"offset": 0.890625, "color": "#eee"}, {"offset": 0.90625, "color": "#555"}, {"offset": 0.921875, "color": "#eee"}, {"offset": 0.9375, "color": "#555"}, {"offset": 0.953125, "color": "#eee"}, {"offset": 0.96875, "color": "#555"}, {"offset": 0.984375, "color": "#eee"}, {"offset": 1, "color": "#555"}]}}},
            {"mark": {"type": "rule", "color": "#000", "strokeWidth": 1.3}, "encoding": {"y2": {"field": "hi"}}},
            {"mark": {"type": "tick", "color": "#000", "thickness": 1.3, "size": 9}, "encoding": {"y": {"field": "hi", "type": "quantitative", "title": "(g) COX/(DMI x mBW) (g x kg⁻¹ x kg⁻⁰·⁷⁵)"}}}
          ]
        }
      ],
      "spacing": 34,
      "center": true,
      "resolve": {"scale": {"color": "independent", "shape": "independent", "fill": "independent", "stroke": "independent"}}
    },
    {
      "hconcat": [
        {
          "width": 290, "height": 163,
          "data": {"name": "e"},
          "encoding": {
            "x": {"field": "t", "type": "quantitative", "scale": {"domain": [-1.65, 21.6], "nice": false, "zero": false}, "axis": {"title": "Time (hours)", "values": [-1,0,1,2,3,4,5,6,7,8,9,10,11,12,13,14,15,16,17,18,19,20,21], "labelOverlap": false, "labelFlush": false, "titlePadding": 1}},
            "y": {"field": "m", "type": "quantitative", "title": "(e) Δ HP/mBW (kJ/kg⁰·⁷⁵)", "scale": {"domain": [-5, 10], "nice": false, "zero": false}, "axis": {"values": [-5, 0, 5, 10], "titleX": -23}}
          },
          "layer": [
            {"data": {"values": [{}]}, "mark": {"type": "rule", "strokeDash": [1.5, 2], "color": "#333", "strokeWidth": 0.9}, "encoding": {"x": {"datum": -1.65}, "x2": {"datum": 21.6}, "y": {"datum": 0}}},
            {"mark": {"type": "errorbar", "ticks": {"size": 4}, "thickness": 0.8}, "encoding": {"yError": {"field": "se"}, "color": {"field": "g", "type": "nominal", "scale": {"domain": ["NaCl", "AEA", "2-AG"], "range": ["#000", "#666", "#666"]}, "legend": null}}},
            {"mark": {"type": "line", "strokeWidth": 1}, "encoding": {"color": {"field": "g", "type": "nominal", "scale": {"domain": ["NaCl", "AEA", "2-AG"], "range": ["#000", "#666", "#666"]}, "legend": null}}},
            {"mark": {"type": "point", "size": 16, "strokeWidth": 0.9, "opacity": 1},
             "encoding": {
               "shape": {"field": "g", "type": "nominal", "scale": {"domain": ["NaCl", "AEA", "2-AG"], "range": ["square", "circle", "triangle-up"]}, "legend": null},
               "fill": {"field": "g", "type": "nominal", "scale": {"domain": ["NaCl", "AEA", "2-AG"], "range": ["#000", "#fff", "#fff"]}, "legend": null},
               "stroke": {"field": "g", "type": "nominal", "scale": {"domain": ["NaCl", "AEA", "2-AG"], "range": ["#000", "#555", "#555"]}, "legend": null}
             }},
            {"data": {"name": "eNote"}, "transform": [{"filter": "datum.s == '↓'"}], "mark": {"type": "text", "font": "DejaVu Sans", "fontSize": 11, "fontWeight": "bold", "baseline": "middle", "color": "#000"}, "encoding": {"text": {"field": "s"}}},
            {"data": {"name": "eNote"}, "transform": [{"filter": "datum.s == '*'"}], "mark": {"type": "text", "font": "Liberation Sans", "fontSize": 8.5, "fontWeight": "bold", "baseline": "middle", "dy": 1.5, "color": "#000"}, "encoding": {"text": {"field": "s"}}},
            {"data": {"name": "eNote"}, "transform": [{"filter": "datum.s == '¤'"}], "mark": {"type": "text", "font": "Liberation Sans", "fontSize": 6.5, "fontWeight": "bold", "baseline": "middle", "color": "#000"}, "encoding": {"text": {"field": "s"}}}
          ]
        },
        {
          "width": 88, "height": 152,
          "data": {"name": "h"},
          "encoding": {
            "x": {"field": "g", "type": "nominal", "sort": ["NaCl", "AEA", "2-AG"], "scale": {"paddingInner": 0.25, "paddingOuter": 0.35}, "axis": {"title": null, "labelAngle": 0, "labelFontSize": 7}},
            "y": {"field": "m", "type": "quantitative", "title": "(h) HP/(DMI x mBW) (kJ x kg⁻¹ x kg⁻⁰·⁷⁵)", "scale": {"domain": [0, 80], "nice": false}, "axis": {"values": [0, 20, 40, 60, 80], "titleX": -24, "titleFontSize": 8}}
          },
          "layer": [
            {"transform": [{"filter": "datum.g != 'AEA'"}], "mark": {"type": "bar", "stroke": "#000", "strokeWidth": 1.3}, "encoding": {"fill": {"field": "g", "type": "nominal", "scale": {"domain": ["NaCl", "2-AG"], "range": ["#000", "#fff"]}, "legend": null}}},
            {"transform": [{"filter": "datum.g == 'AEA'"}], "mark": {"type": "bar", "stroke": "#000", "strokeWidth": 1.3, "fill": {"gradient": "linear", "x1": 0, "y1": 0, "x2": 0.22, "y2": 1.15, "stops": [{"offset": 0, "color": "#555"}, {"offset": 0.015625, "color": "#eee"}, {"offset": 0.03125, "color": "#555"}, {"offset": 0.046875, "color": "#eee"}, {"offset": 0.0625, "color": "#555"}, {"offset": 0.078125, "color": "#eee"}, {"offset": 0.09375, "color": "#555"}, {"offset": 0.109375, "color": "#eee"}, {"offset": 0.125, "color": "#555"}, {"offset": 0.140625, "color": "#eee"}, {"offset": 0.15625, "color": "#555"}, {"offset": 0.171875, "color": "#eee"}, {"offset": 0.1875, "color": "#555"}, {"offset": 0.203125, "color": "#eee"}, {"offset": 0.21875, "color": "#555"}, {"offset": 0.234375, "color": "#eee"}, {"offset": 0.25, "color": "#555"}, {"offset": 0.265625, "color": "#eee"}, {"offset": 0.28125, "color": "#555"}, {"offset": 0.296875, "color": "#eee"}, {"offset": 0.3125, "color": "#555"}, {"offset": 0.328125, "color": "#eee"}, {"offset": 0.34375, "color": "#555"}, {"offset": 0.359375, "color": "#eee"}, {"offset": 0.375, "color": "#555"}, {"offset": 0.390625, "color": "#eee"}, {"offset": 0.40625, "color": "#555"}, {"offset": 0.421875, "color": "#eee"}, {"offset": 0.4375, "color": "#555"}, {"offset": 0.453125, "color": "#eee"}, {"offset": 0.46875, "color": "#555"}, {"offset": 0.484375, "color": "#eee"}, {"offset": 0.5, "color": "#555"}, {"offset": 0.515625, "color": "#eee"}, {"offset": 0.53125, "color": "#555"}, {"offset": 0.546875, "color": "#eee"}, {"offset": 0.5625, "color": "#555"}, {"offset": 0.578125, "color": "#eee"}, {"offset": 0.59375, "color": "#555"}, {"offset": 0.609375, "color": "#eee"}, {"offset": 0.625, "color": "#555"}, {"offset": 0.640625, "color": "#eee"}, {"offset": 0.65625, "color": "#555"}, {"offset": 0.671875, "color": "#eee"}, {"offset": 0.6875, "color": "#555"}, {"offset": 0.703125, "color": "#eee"}, {"offset": 0.71875, "color": "#555"}, {"offset": 0.734375, "color": "#eee"}, {"offset": 0.75, "color": "#555"}, {"offset": 0.765625, "color": "#eee"}, {"offset": 0.78125, "color": "#555"}, {"offset": 0.796875, "color": "#eee"}, {"offset": 0.8125, "color": "#555"}, {"offset": 0.828125, "color": "#eee"}, {"offset": 0.84375, "color": "#555"}, {"offset": 0.859375, "color": "#eee"}, {"offset": 0.875, "color": "#555"}, {"offset": 0.890625, "color": "#eee"}, {"offset": 0.90625, "color": "#555"}, {"offset": 0.921875, "color": "#eee"}, {"offset": 0.9375, "color": "#555"}, {"offset": 0.953125, "color": "#eee"}, {"offset": 0.96875, "color": "#555"}, {"offset": 0.984375, "color": "#eee"}, {"offset": 1, "color": "#555"}]}}},
            {"mark": {"type": "rule", "color": "#000", "strokeWidth": 1.3}, "encoding": {"y2": {"field": "hi"}}},
            {"mark": {"type": "tick", "color": "#000", "thickness": 1.3, "size": 9}, "encoding": {"y": {"field": "hi", "type": "quantitative", "title": "(h) HP/(DMI x mBW) (kJ x kg⁻¹ x kg⁻⁰·⁷⁵)"}}}
          ]
        }
      ],
      "spacing": 34,
      "center": true,
      "resolve": {"scale": {"color": "independent", "shape": "independent", "fill": "independent", "stroke": "independent"}}
    }
  ],
  "spacing": 9,
  "resolve": {"scale": {"color": "independent", "shape": "independent", "fill": "independent", "stroke": "independent"}},
  "config": {
    "font": "Liberation Sans",
    "view": {"stroke": null},
    "legend": {"disable": false},
    "axis": {"grid": false, "domainColor": "#000", "domainWidth": 1.3, "tickColor": "#000", "tickWidth": 1.1, "tickSize": 3, "labelFont": "Liberation Sans", "labelFontSize": 6.6, "labelFontWeight": "bold", "labelColor": "#000", "labelPadding": 2, "titleFont": "Liberation Sans", "titleFontWeight": "bold", "titleColor": "#000"},
    "axisX": {"titleFontSize": 7.7},
    "axisY": {"titleFontSize": 9.5, "titleBaseline": "middle"}
  }
}
